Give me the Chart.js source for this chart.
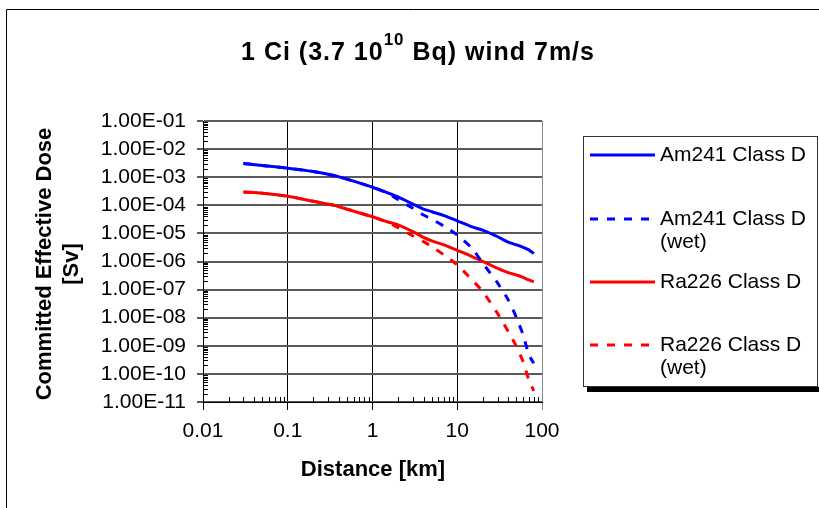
<!DOCTYPE html>
<html>
<head>
<meta charset="utf-8">
<script src="https://cdn.jsdelivr.net/npm/chart.js@4"></script>
<style>
  html, body { margin: 0; padding: 0; background: #fff; }
  canvas { display: block; }
</style>
</head>
<body>
<canvas id="dose_plot" width="819" height="508"></canvas>
<script>
// distance from source [km]
const distances = [0.03, 0.05, 0.1, 0.2, 0.35, 0.5, 1, 1.5, 2, 3, 4, 5, 7, 10, 15, 20, 30, 40, 50, 60, 70, 80];

// committed effective dose [Sv]
const am241 =    [3.1e-3, 2.6e-3, 2.1e-3, 1.6e-3, 1.15e-3, 8.5e-4, 4.4e-4, 2.8e-4, 2.0e-4, 1.1e-4, 7.3e-5, 5.9e-5, 4.3e-5, 2.8e-5, 1.7e-5, 1.3e-5, 7.6e-6, 4.9e-6, 3.9e-6, 3.2e-6, 2.6e-6, 1.9e-6];
const am241Wet = [3.1e-3, 2.6e-3, 2.1e-3, 1.6e-3, 1.15e-3, 8.5e-4, 4.4e-4, 2.7e-4, 1.6e-4, 7.8e-5, 4.5e-5, 3.2e-5, 1.8e-5, 8.7e-6, 2.9e-6, 8.7e-7, 1.7e-7, 4.3e-8, 1.0e-8, 2.4e-9, 4.7e-10, 2.4e-10];
const ra226 =    [3.0e-4, 2.7e-4, 2.1e-4, 1.4e-4, 1.0e-4, 7.3e-5, 3.9e-5, 2.6e-5, 2.0e-5, 1.15e-5, 7.2e-6, 5.4e-6, 3.9e-6, 2.5e-6, 1.5e-6, 1.0e-6, 5.7e-7, 4.0e-7, 3.3e-7, 2.7e-7, 2.2e-7, 1.9e-7];
const ra226Wet = [3.0e-4, 2.7e-4, 2.1e-4, 1.4e-4, 1.0e-4, 7.3e-5, 3.9e-5, 2.5e-5, 1.6e-5, 8.1e-6, 5.1e-6, 3.4e-6, 1.7e-6, 7.6e-7, 2.2e-7, 8.5e-8, 1.4e-8, 3.2e-9, 9.3e-10, 2.7e-10, 6.0e-11, 2.5e-11];

const seriesNames = ["Am241 Class D", "Am241 Class D\n(wet)", "Ra226 Class D", "Ra226 Class D\n(wet)"];

const xTicks = [0.01, 0.1, 1, 10, 100];
const xTickLabels = ["0.01", "0.1", "1", "10", "100"];
const yTicks = [1e-11, 1e-10, 1e-9, 1e-8, 1e-7, 1e-6, 1e-5, 1e-4, 1e-3, 1e-2, 1e-1];
const yTickLabels = ["1.00E-11", "1.00E-10", "1.00E-09", "1.00E-08", "1.00E-07", "1.00E-06",
                     "1.00E-05", "1.00E-04", "1.00E-03", "1.00E-02", "1.00E-01"];

const FONT = "'Liberation Sans', Arial, sans-serif";

function pts(ys) {
    return distances.map((d, i) => ({x: d, y: ys[i]}));
}

function line(label, ys, color, dashed) {
    return {
        label: label,
        data: pts(ys),
        borderColor: color,
        backgroundColor: color,
        borderWidth: 3,
        borderDash: dashed ? [8, 9] : [],
        pointRadius: 0,
        fill: false,
        tension: 0.2
    };
}

// frame, titles, minor ticks and the boxed legend
const decorations = {
    id: "decorations",
    beforeDraw(chart) {
        const ctx = chart.ctx;
        ctx.save();
        ctx.strokeStyle = "#000";
        ctx.lineWidth = 1;
        ctx.beginPath();
        ctx.moveTo(6.5, 520);
        ctx.lineTo(6.5, 9.5);
        ctx.lineTo(830, 9.5);
        ctx.stroke();
        ctx.restore();
    },
    afterDraw(chart) {
        const ctx = chart.ctx;
        const xs = chart.scales.x, ys = chart.scales.y;
        const area = chart.chartArea;
        ctx.save();

        // minor ticks inside the plot
        ctx.strokeStyle = "#000";
        ctx.lineWidth = 1;
        ctx.beginPath();
        for (let e = -2; e < 2; e++) {
            for (let m = 2; m <= 9; m++) {
                const px = Math.round(xs.getPixelForValue(m * Math.pow(10, e))) + 0.5;
                ctx.moveTo(px, area.bottom);
                ctx.lineTo(px, area.bottom - 5);
            }
        }
        for (let e = -11; e < -1; e++) {
            for (let m = 2; m <= 9; m++) {
                const py = Math.round(ys.getPixelForValue(m * Math.pow(10, e))) + 0.5;
                ctx.moveTo(area.left, py);
                ctx.lineTo(area.left + 5, py);
            }
        }
        ctx.stroke();

        // chart title with superscript
        ctx.fillStyle = "#000";
        ctx.textBaseline = "alphabetic";
        ctx.textAlign = "left";
        ctx.letterSpacing = "1px";
        const t1 = "1 Ci (3.7 10", t3 = " Bq) wind 7m/s";
        ctx.font = "bold 25px " + FONT;
        const w1 = ctx.measureText(t1).width, w3 = ctx.measureText(t3).width;
        ctx.font = "bold 17px " + FONT;
        const w2 = ctx.measureText("10").width;
        let tx = 418 - (w1 + w2 + w3) / 2;
        const base = 60;
        ctx.font = "bold 25px " + FONT;
        ctx.fillText(t1, tx, base);
        tx += w1;
        ctx.font = "bold 17px " + FONT;
        ctx.fillText("10", tx, base - 15);
        tx += w2;
        ctx.font = "bold 25px " + FONT;
        ctx.fillText(t3, tx, base);
        ctx.letterSpacing = "0px";

        // axis titles
        ctx.font = "bold 22px " + FONT;
        ctx.textAlign = "center";
        ctx.textBaseline = "middle";
        ctx.fillText("Distance [km]", 373, 470);
        ctx.save();
        ctx.translate(45, 264);
        ctx.rotate(-Math.PI / 2);
        ctx.fillText("Committed Effective Dose", 0, 0);
        ctx.fillText("[Sv]", 0, 27);
        ctx.restore();

        // legend box with shadow
        ctx.fillStyle = "#000";
        ctx.fillRect(587, 387, 240, 5);
        ctx.fillStyle = "#fff";
        ctx.fillRect(583.5, 136.5, 234, 250);
        ctx.strokeStyle = "#333";
        ctx.lineWidth = 1;
        ctx.strokeRect(583.5, 136.5, 234, 250);

        const rows = [155, 219, 282, 345];
        ctx.font = "21px " + FONT;
        ctx.textAlign = "left";
        ctx.textBaseline = "middle";
        chart.data.datasets.forEach((ds, i) => {
            const y = rows[i];
            ctx.strokeStyle = ds.borderColor;
            ctx.lineWidth = ds.borderWidth;
            ctx.setLineDash(ds.borderDash);
            ctx.beginPath();
            ctx.moveTo(590, y);
            ctx.lineTo(655, y);
            ctx.stroke();
            ctx.setLineDash([]);
            ctx.fillStyle = "#000";
            ds.label.split("\n").forEach((s, k) => ctx.fillText(s, 660, y + k * 23));
        });

        ctx.restore();
    }
};

new Chart(document.getElementById("dose_plot"), {
    type: "line",
    data: {
        datasets: [
            line(seriesNames[0], am241, "#0000ff", false),
            line(seriesNames[1], am241Wet, "#0000ff", true),
            line(seriesNames[2], ra226, "#ff0000", false),
            line(seriesNames[3], ra226Wet, "#ff0000", true)
        ]
    },
    options: {
        responsive: false,
        animation: false,
        layout: { padding: { left: 0, top: 121, right: 277, bottom: 0 } },
        plugins: {
            legend: { display: false },
            title: { display: false },
            tooltip: { enabled: false }
        },
        scales: {
            x: {
                type: "logarithmic",
                min: 0.01,
                max: 100,
                afterBuildTicks: (s) => { s.ticks = xTicks.map(v => ({value: v})); },
                afterFit: (s) => { s.height = 106; },
                ticks: {
                    autoSkip: false,
                    maxRotation: 0,
                    padding: 9,
                    color: "#000",
                    font: { family: FONT, size: 21 },
                    callback: (v) => xTickLabels[xTicks.indexOf(v)]
                },
                grid: {
                    color: (c) => (c.tick && c.tick.value === 100) ? "#888" : "#000",
                    lineWidth: 1,
                    tickLength: 8
                },
                border: { color: "#000", width: 1 }
            },
            y: {
                type: "logarithmic",
                min: 1e-11,
                max: 1e-1,
                afterBuildTicks: (s) => { s.ticks = yTicks.map(v => ({value: v})); },
                afterFit: (s) => { s.width = 203; },
                ticks: {
                    autoSkip: false,
                    padding: 11,
                    color: "#000",
                    font: { family: FONT, size: 21 },
                    callback: (v) => yTickLabels[yTicks.indexOf(v)]
                },
                grid: {
                    color: "#5a5a5a",
                    lineWidth: 2,
                    tickLength: 6
                },
                border: { color: "#000", width: 1 }
            }
        }
    },
    plugins: [decorations]
});
</script>
</body>
</html>
